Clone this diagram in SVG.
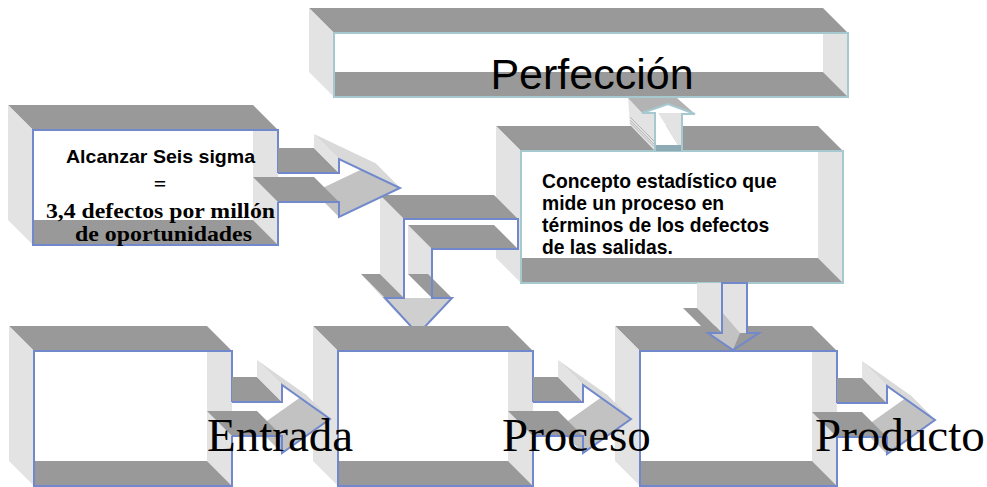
<svg xmlns="http://www.w3.org/2000/svg" width="987" height="487" viewBox="0 0 987 487">
<defs>
<style>
.dk{fill:#999999}
.lt{fill:#e3e3e3}
.md{fill:#c2c2c2}
.ls{fill:#d9d9d9}
.wf{fill:#ffffff}
.bl{fill:none;stroke:#7189cc;stroke-width:2}
.tl{fill:none;stroke:#a6c9d0;stroke-width:2}
.sans{font-family:"Liberation Sans",Arial,sans-serif;fill:#000}
.serif{font-family:"Liberation Serif","Times New Roman",serif;fill:#000}
.b{font-weight:bold}
</style>
<clipPath id="cpBent"><rect x="0" y="0" width="987" height="326"/></clipPath>
<clipPath id="cpUp"><rect x="0" y="97" width="987" height="100"/></clipPath>
<g id="harrow">
 <polygon class="md" points="73,-8 98,17 50,51 25,26"/>
 <polygon class="dk" points="-25,9 25,9 50,34 0,34"/>
 <polygon class="dk" points="0,-25 25,-25 50,0 0,0"/>
 <polygon class="lt" points="25,-42 50,-17 50,0 25,-25"/>
 <polygon class="ls" points="25,-42 73,-8 98,17 50,-17"/>
 <path class="bl" d="M0,0 H50 V-17 L98,17 L50,51 V34 H0"/>
</g>
</defs>
<rect width="987" height="487" fill="#ffffff"/>

<g id="nodes">
<g id="perfeccion">
 <polygon class="dk" points="309,8 823,8 848,33 334,33"/>
 <polygon class="lt" points="309,8 334,33 334,97 309,72"/>
 <rect class="wf" x="334" y="33" width="514" height="64"/>
 <polygon class="lt" points="823,33 848,33 848,97 823,72"/>
 <polygon class="dk" points="334,72 823,72 848,97 334,97"/>
 <rect class="tl" x="334" y="33" width="514" height="64"/>
</g>
<g id="concepto">
 <polygon class="dk" points="496,126 818,126 843,151 521,151"/>
 <polygon class="lt" points="496,126 521,151 521,283 496,258"/>
 <rect class="wf" x="521" y="151" width="322" height="132"/>
 <polygon class="lt" points="818,151 843,151 843,283 818,258"/>
 <polygon class="dk" points="521,258 818,258 843,283 521,283"/>
 <rect class="tl" x="521" y="151" width="322" height="132"/>
</g>
<g id="alcanzar">
 <polygon class="dk" points="8,105 253,105 278,130 33,130"/>
 <polygon class="lt" points="8,105 33,130 33,245 8,220"/>
 <rect class="wf" x="33" y="130" width="245" height="115"/>
 <polygon class="lt" points="253,130 278,130 278,245 253,220"/>
 <polygon class="dk" points="33,220 253,220 278,245 33,245"/>
 <path class="bl" d="M278,173 V130 H33 V245 H278 V202"/>
</g>
<g id="entrada">
 <polygon class="dk" points="9,326 207,326 232,351 34,351"/>
 <polygon class="lt" points="9,326 34,351 34,486 9,461"/>
 <rect class="wf" x="34" y="351" width="198" height="135"/>
 <polygon class="lt" points="207,351 232,351 232,486 207,461"/>
 <polygon class="dk" points="34,461 207,461 232,486 34,486"/>
 <path class="bl" d="M232,402 V351 H34 V486 H232 V436"/>
</g>
<g id="proceso">
 <polygon class="dk" points="313,326 508,326 533,351 338,351"/>
 <polygon class="lt" points="313,326 338,351 338,486 313,461"/>
 <rect class="wf" x="338" y="351" width="195" height="135"/>
 <polygon class="lt" points="508,351 533,351 533,486 508,461"/>
 <polygon class="dk" points="338,461 508,461 533,486 338,486"/>
 <path class="bl" d="M533,402 V351 H338 V486 H533 V436"/>
</g>
<g id="producto">
 <polygon class="dk" points="615,326 812,326 837,351 640,351"/>
 <polygon class="lt" points="615,326 640,351 640,486 615,461"/>
 <rect class="wf" x="640" y="351" width="197" height="135"/>
 <polygon class="lt" points="812,351 837,351 837,486 812,461"/>
 <polygon class="dk" points="640,461 812,461 837,486 640,486"/>
 <path class="bl" d="M837,403 V351 H640 V486 H837 V437"/>
</g>
</g>

<g id="connectors">
 <g id="arrow-up" clip-path="url(#cpUp)">
  <polygon class="lt" points="628,98 642,113 655,113 655,151 630,125"/>
  <line x1="630" y1="117" x2="654" y2="141" stroke="#a0a0a0" stroke-width="0.7"/>
  <line x1="630" y1="120" x2="654" y2="144" stroke="#a0a0a0" stroke-width="0.7"/>
  <line x1="630" y1="122.5" x2="654" y2="146.5" stroke="#a0a0a0" stroke-width="0.7"/>
  <polygon class="lt" points="658,113 682,113 682,148 680,148"/>
  <polygon class="wf" points="655,113 658,113 680,148 655,148"/>
  <rect x="655" y="145" width="27" height="6" fill="#8eaab5"/>
  <polygon fill="#b3b3b3" points="628,98 677,98 695,114 668,104 642,113"/>
  <path class="tl" d="M655,151 V113 H642 L668,104 L695,114 H682 V151"/>
 </g>
 <g id="arrow-bent" clip-path="url(#cpBent)">
  <rect class="wf" x="404" y="219" width="114" height="30"/>
  <rect class="wf" x="404" y="219" width="28" height="79"/>
  <polygon class="lt" points="380,195 404,219 404,298 380,274"/>
  <polygon class="dk" points="380,195 494,195 518,219 404,219"/>
  <polygon class="lt" points="408,225 432,249 432,298 408,274"/>
  <polygon class="dk" points="408,225 494,225 518,249 432,249"/>
  <polygon fill="#cfcfcf" points="385,298 452,298 418,334"/>
  <polygon class="ls" points="361,274 394,310 418,334 385,298"/>
  <polygon class="dk" points="361,274 380,274 404,298 385,298"/>
  <polygon class="dk" points="408,274 428,274 452,298 432,298"/>
  <path class="bl" d="M518,219 H404 V298 H385 L418,334 L452,298 H432 V249 H518 Z"/>
 </g>
 <g id="arrow-alcanzar" transform="translate(278,173)">
  <polygon class="md" points="97,-10 122,15 61,44 36,19"/>
  <polygon class="dk" points="-25,4 36,4 61,29 0,29"/>
  <polygon class="dk" points="0,-25 36,-25 61,0 0,0"/>
  <polygon class="lt" points="36,-39 61,-14 61,0 36,-25"/>
  <polygon class="ls" points="36,-39 97,-10 122,15 61,-14"/>
  <path class="bl" d="M0,0 H61 V-14 L122,15 L61,44 V29 H0"/>
 </g>
 <use id="arrow-entrada" href="#harrow" x="232" y="402"/>
 <use id="arrow-proceso" href="#harrow" x="533" y="402"/>
 <use id="arrow-producto" href="#harrow" x="837" y="403"/>
 <g id="arrow-down">
  <polygon class="lt" points="697,283 722,283 722,333 697,308"/>
  <polygon class="dk" points="683,308 697,308 722,333 708,333"/>
  <rect class="lt" x="722" y="283" width="25" height="50"/>
  <polygon class="dk" points="708,333 759,333 733,350"/>
  <polygon class="md" points="708,333 722,333 722,312 740,333 733,350"/>
  <path class="bl" d="M722,283 H747 V333 H759 L733,350 L708,333 H722 Z"/>
 </g>
</g>

<g id="labels">
 <text id="t-perfeccion" class="sans" x="592" y="89" font-size="43" text-anchor="middle">Perfección</text>
 <text class="sans b" x="66" y="163" font-size="18.5" textLength="189" lengthAdjust="spacingAndGlyphs">Alcanzar Seis sigma</text>
 <text class="serif b" x="160" y="191" font-size="22" text-anchor="middle">=</text>
 <text class="serif b" x="46" y="217.5" font-size="22" textLength="229" lengthAdjust="spacingAndGlyphs">3,4 defectos por millón</text>
 <text class="serif b" x="75" y="240.5" font-size="22" textLength="177" lengthAdjust="spacingAndGlyphs">de oportunidades</text>
 <text class="sans b" x="542" y="188" font-size="19.3">Concepto estadístico que</text>
 <text class="sans b" x="542" y="210" font-size="19.3">mide un proceso en</text>
 <text class="sans b" x="542" y="232" font-size="19.3">términos de los defectos</text>
 <text class="sans b" x="542" y="253.5" font-size="19.3">de las salidas.</text>
 <text class="serif" x="207" y="451" font-size="47">Entrada</text>
 <text class="serif" x="502" y="451" font-size="47">Proceso</text>
 <text class="serif" x="815" y="451" font-size="47">Producto</text>
</g>
</svg>
